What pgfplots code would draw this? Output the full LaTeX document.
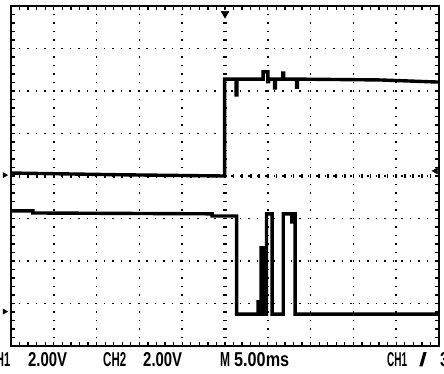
\documentclass[border=0pt]{standalone}
\usepackage{fontspec}
\setmainfont{Liberation Sans}
\usepackage{graphicx}
\usepackage{pgfplots}
\pgfplotsset{compat=1.18}
\begin{document}
\begin{tikzpicture}[x=1pt,y=1pt]
\path[use as bounding box, fill=white] (0,0) rectangle (444,373);
\begin{axis}[
  at={(11pt,27pt)}, anchor=south west,
  scale only axis, width=428pt, height=340pt,
  xmin=0, xmax=10, ymin=-4, ymax=4,
  xtick={0,...,10}, ytick={-4,...,4},
  minor x tick num=4, minor y tick num=4,
  xticklabels={}, yticklabels={},
  tick align=inside,
  major tick length=4pt, minor tick length=4pt,
  every tick/.style={black, line width=1.3pt},
  axis line style={black, line width=2.2pt},
  grid=major,
  major grid style={black, line width=1.7pt, dash pattern=on 1.7pt off 6.8pt, dash phase=0.85pt},
  clip=false,
]
% centre crosshair graduations
\draw[black, line width=4.5pt, dash pattern=on 1.7pt off 6.8pt, dash phase=0.85pt] (axis cs:5,-4) -- (axis cs:5,4);
\draw[black, line width=4.5pt, dash pattern=on 1.7pt off 6.86pt, dash phase=0.85pt] (axis cs:0,0) -- (axis cs:10,0);
% CH1 trace
\addplot[black, line width=3.4pt, line join=miter] coordinates {
(0,0.07) (2.5,0.03) (4.99,0.0) (4.99,2.28) (5.26,2.28) (5.26,1.91) (5.28,1.91) (5.28,2.28)
(5.89,2.28) (5.89,2.45) (6.0,2.45) (6.0,2.22) (6.02,2.22) (6.02,2.28)
(6.16,2.28) (6.16,2.07) (6.18,2.07) (6.18,2.28)
(6.35,2.28) (6.35,2.42) (6.37,2.42) (6.37,2.28)
(6.67,2.28) (6.67,2.09) (6.69,2.09) (6.69,2.28)
(8.62,2.26) (10,2.21)};
% CH2 trace
\addplot[black, line width=3.4pt, line join=miter] coordinates {
(0,-0.82) (0.51,-0.82) (0.51,-0.87) (4.70,-0.89) (4.70,-0.94) (5.27,-0.94) (5.27,-3.25)
(5.77,-3.25) (5.77,-2.92) (5.77,-3.25)
(5.84,-3.25) (5.84,-1.69) (5.92,-1.69) (5.92,-3.25) (5.97,-3.25) (5.97,-0.89)
(6.10,-0.89) (6.10,-3.25) (6.36,-3.25) (6.36,-0.89) (6.56,-0.89) (6.56,-1.08) (6.62,-1.08) (6.62,-0.89)
(6.64,-0.89) (6.64,-3.25) (10,-3.25)};
% trigger position marker
\addplot[only marks, mark=triangle*, mark size=4.5pt, mark options={rotate=180, fill=black, draw=black}] coordinates {(5.0,3.82)};
% channel ground markers
\addplot[only marks, mark=triangle*, mark size=3pt, mark options={rotate=-90, fill=black, draw=black}] coordinates {(-0.15,0.02) (-0.15,-3.19)};
% trigger level marker
\addplot[only marks, mark=triangle*, mark size=3.5pt, mark options={rotate=90, fill=black, draw=black}] coordinates {(9.92,0.12)};
\end{axis}
\begin{scope}[every node/.style={anchor=base west, inner sep=0pt, black, font=\bfseries}]
\node at (-12,7) {\resizebox{22pt}{14pt}{CH1}};
\node at (28,7) {\resizebox{39pt}{14pt}{2.00V}};
\node at (103,7) {\resizebox{23pt}{14pt}{CH2}};
\node at (143,7) {\resizebox{39pt}{14pt}{2.00V}};
\node at (220,7) {\resizebox{10pt}{14pt}{M}};
\node at (234,7) {\resizebox{55pt}{14pt}{5.00ms}};
\node at (387,7) {\resizebox{20pt}{14pt}{CH1}};
\node at (419,7) {\resizebox{8pt}{14pt}{/}};
\node at (440,7) {\resizebox{40pt}{14pt}{3.20V}};
\end{scope}
\end{tikzpicture}
\end{document}
